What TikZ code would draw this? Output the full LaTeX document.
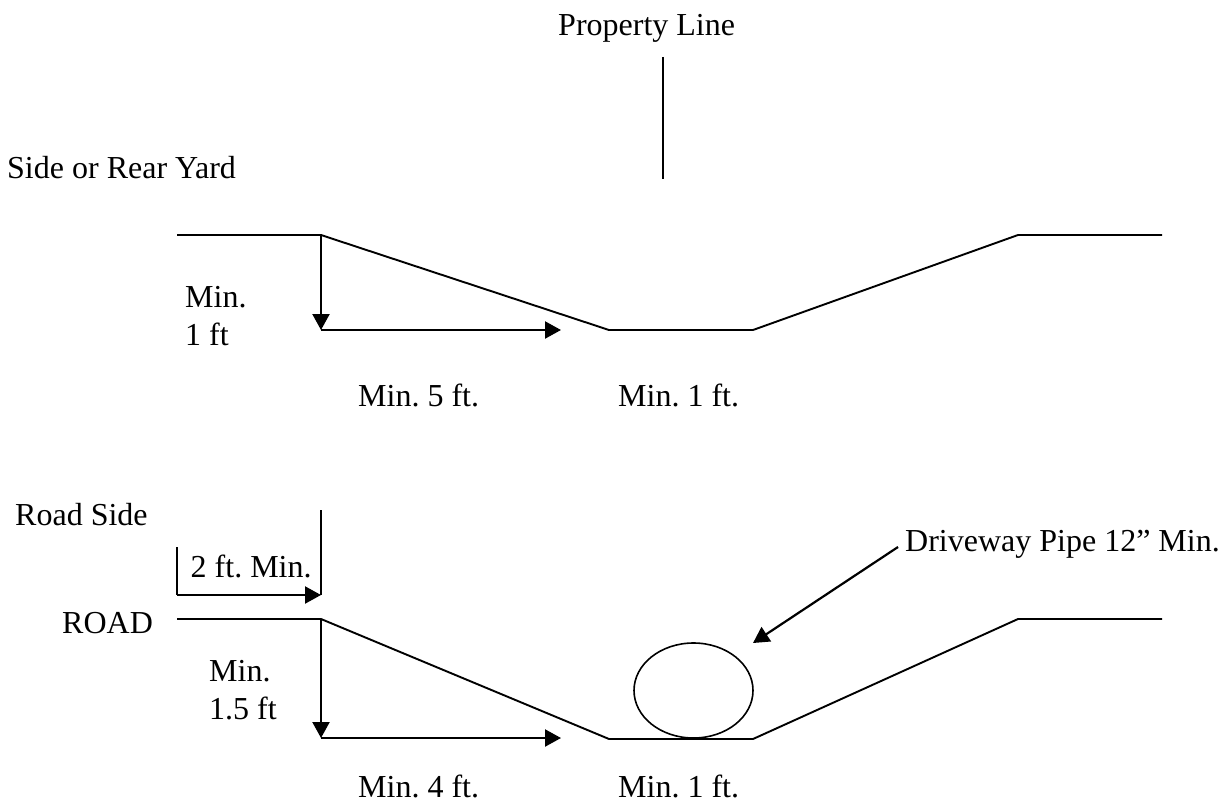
\documentclass[tikz,border=0pt]{standalone}
\usepackage{fontspec}
\setmainfont{Liberation Serif}
\usetikzlibrary{arrows.meta,shapes.geometric}
\tikzset{
 lbl/.style={inner sep=0pt,font=\fontsize{32}{36}\selectfont\frenchspacing,align=left,anchor=base west},
 ln/.style={draw=black,line width=1.9pt},
 arr/.style={ln,line width=2.2pt,-{Triangle[length=16pt,width=17pt]}}
}
\begin{document}
\begin{tikzpicture}[x=1pt,y=-1pt]
\useasboundingbox[fill=white] (0,0) rectangle (1228,808);
\node[lbl] (t1) at (558,36) {Property Line};
\node[lbl] (t2) at (7,178) {Side or Rear Yard};
\node[lbl] (t3) at (185,307) {Min.};
\node[lbl] (t4) at (185,345) {1 ft};
\node[lbl] (t5) at (358,406) {Min. 5 ft.};
\node[lbl] (t6) at (618,406) {Min. 1 ft.};
\node[lbl] (t7) at (15,525) {Road Side};
\node[lbl] (t8) at (190.5,577) {2 ft. Min.};
\node[lbl] (t9) at (62,633) {ROAD};
\node[lbl] (t10) at (209,681) {Min.};
\node[lbl] (t11) at (209,719) {1.5 ft};
\node[lbl] (t12) at (358,797) {Min. 4 ft.};
\node[lbl] (t13) at (618,797) {Min. 1 ft.};
\node[lbl] (t14) at (905,551) {Driveway Pipe 12” Min.};
\coordinate (p1) at (663,57); \coordinate (p2) at (663,179);
\draw[ln] (p1) -- (p2);
\coordinate (a0) at (177,235); \coordinate (a1) at (321,235); \coordinate (a2) at (609,330); \coordinate (a3) at (753,330); \coordinate (a4) at (1018,235); \coordinate (a5) at (1162,235);
\draw[ln] (a0) -- (a1) -- (a2) -- (a3) -- (a4) -- (a5);
\coordinate (a6) at (321,330); \coordinate (a7) at (561,330);
\draw[arr] (a1) -- (a6);
\draw[arr] (a6) -- (a7);
\coordinate (b0) at (177,619); \coordinate (b1) at (321,619); \coordinate (b2) at (609,739); \coordinate (b3) at (753,739); \coordinate (b4) at (1018,619); \coordinate (b5) at (1162,619);
\draw[ln] (b0) -- (b1) -- (b2) -- (b3) -- (b4) -- (b5);
\coordinate (b6) at (321,738); \coordinate (b7) at (561,738);
\draw[arr] (b1) -- (b6);
\draw[arr] (b6) -- (b7);
\coordinate (c0) at (321,510); \coordinate (c1) at (321,595);
\draw[ln] (c0) -- (c1);
\coordinate (d0) at (177,547); \coordinate (d1) at (177,595);
\draw[ln] (d0) -- (d1);
\draw[arr] (d1) -- (c1);
\node[draw=black,line width=1.6pt,ellipse,minimum width=119pt,minimum height=95pt,inner sep=0pt] (pipe) at (693.5,690.5) {};
\coordinate (e0) at (898,547); \coordinate (e1) at (753,643);
\draw[arr] (e0) -- (e1);
\end{tikzpicture}
\end{document}
